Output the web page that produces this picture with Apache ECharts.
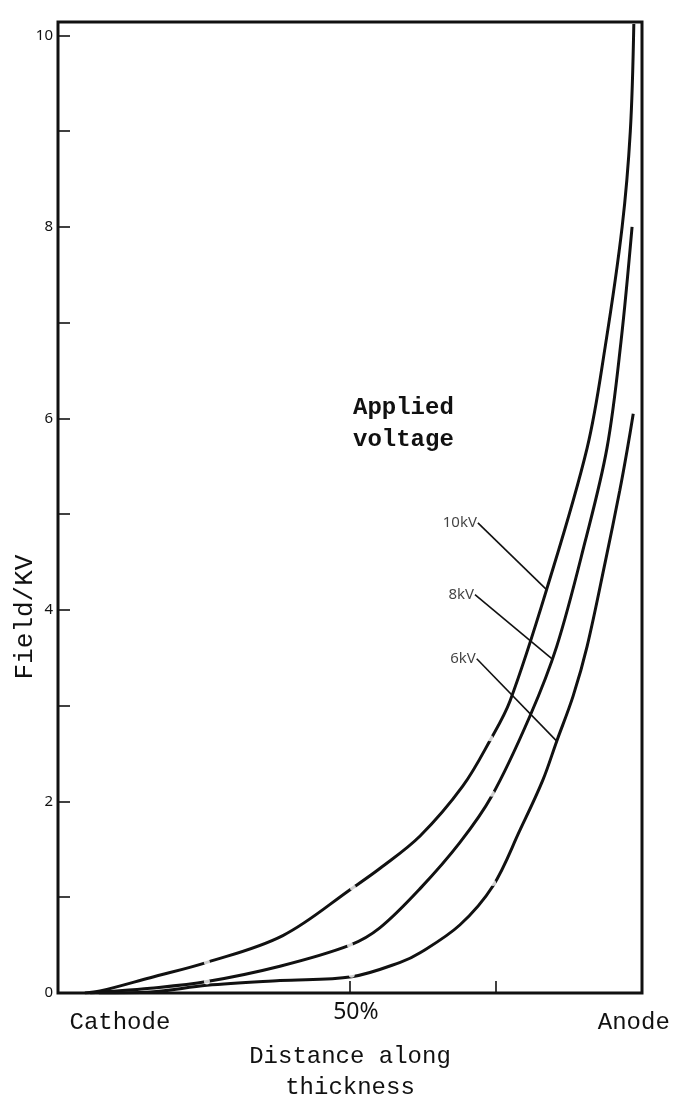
<!DOCTYPE html>
<html>
<head>
<meta charset="utf-8">
<style>
  html, body { margin: 0; padding: 0; background: #fff; }
  #chart { width: 675px; height: 1108px; }
</style>
<script src="https://cdn.jsdelivr.net/npm/echarts@6/dist/echarts.min.js"></script>
</head>
<body>
<div id="chart"></div>
<script>
  // distance along thickness in % (cathode = 0, anode = 100), field in kV
  const x10 = [4.6, 7.2, 15.8, 25.5, 38.5, 50.5, 55.1, 62.0, 69.3, 74.0, 77.4, 83.7, 90.6, 93.7, 96.6, 98.0, 98.6];
  const y10 = [0.0, 0.02, 0.16, 0.32, 0.60, 1.10, 1.30, 1.64, 2.16, 2.64, 3.05, 4.22, 5.69, 6.75, 8.0, 9.0, 10.12];

  const x8 = [5.5, 7.2, 15.8, 25.5, 38.0, 50.0, 55.1, 62.0, 68.8, 74.3, 80.8, 85.4, 90.2, 94.0, 96.4, 98.3];
  const y8 = [0.0, 0.01, 0.05, 0.12, 0.28, 0.50, 0.68, 1.09, 1.57, 2.06, 2.89, 3.62, 4.70, 5.69, 6.80, 8.0];

  const x6 = [7.0, 15.8, 25.5, 38.0, 50.3, 58.6, 62.0, 68.8, 74.5, 79.1, 83.0, 85.4, 88.2, 90.6, 93.7, 96.2, 97.6, 98.5];
  const y6 = [0.0, 0.01, 0.08, 0.13, 0.17, 0.32, 0.42, 0.71, 1.12, 1.70, 2.22, 2.63, 3.10, 3.62, 4.50, 5.25, 5.72, 6.05];

  // faint plotted points on the curves
  const pointsX = [25.5, 50.5, 74.0, 25.5, 50.0, 74.3, 50.3, 74.5];
  const pointsY = [0.32, 1.10, 2.66, 0.12, 0.50, 2.08, 0.19, 1.15];

  // applied-voltage labels and their leader lines (start -> end on curve)
  const voltLabels = ["10kV", "8kV", "6kV"];
  const leadStartX = [71.9, 71.4, 71.7];
  const leadStartY = [4.91, 4.16, 3.49];
  const leadEndX = [83.7, 84.6, 85.4];
  const leadEndY = [4.21, 3.49, 2.63];

  const yTicks = [0, 1, 2, 3, 4, 5, 6, 7, 8, 9, 10];
  const yLabels = [0, 2, 4, 6, 8, 10];
  const xTicks = [50, 75];
  const xLabelAt = [10.6, 51, 98.6];
  const xLabelText = ["Cathode", "50%", "Anode"];

  const INK = "#111";
  const MONO = "'Liberation Mono', 'DejaVu Sans Mono', monospace";
  const HAND = "'Noto Sans', 'DejaVu Sans', sans-serif";

  const zip = (xs, ys) => xs.map((x, i) => [x, ys[i]]);

  const curve = (name, xs, ys) => ({
    type: "line", name, data: zip(xs, ys),
    smooth: 0.35, showSymbol: false,
    lineStyle: { color: INK, width: 3 }, z: 3,
  });

  const leaders = voltLabels.map((lab, i) => ({
    type: "line", data: [[leadStartX[i], leadStartY[i]], [leadEndX[i], leadEndY[i]]],
    showSymbol: false, lineStyle: { color: INK, width: 1.6 }, z: 2,
  }));

  const chart = echarts.init(document.getElementById("chart"));
  chart.setOption({
    animation: false,
    backgroundColor: "#fff",
    grid: { left: 58, right: 33, top: 22, bottom: 110, show: true, borderColor: INK, borderWidth: 3 },
    xAxis: {
      type: "value", min: 0, max: 100,
      axisLine: { show: false },
      splitLine: { show: false },
      axisTick: { show: true, inside: true, length: 12, customValues: xTicks, lineStyle: { color: INK, width: 1.6 } },
      axisLabel: {
        customValues: xLabelAt, margin: 8, color: INK,
        formatter: (v) => {
          const t = xLabelText[xLabelAt.indexOf(v)] || "";
          return t === "50%" ? "{p|" + t + "}" : "{t|" + t + "}";
        },
        rich: {
          t: { fontFamily: MONO, fontSize: 24, color: INK, padding: [10, 0, 0, 0] },
          p: { fontFamily: HAND, fontSize: 23, color: INK },
        },
      },
      name: "Distance along\nthickness",
      nameLocation: "middle", nameGap: 48,
      nameTextStyle: { fontFamily: MONO, fontSize: 24, color: INK, lineHeight: 31 },
    },
    yAxis: {
      type: "value", min: 0, max: 10.14,
      axisLine: { show: false },
      splitLine: { show: false },
      axisTick: { show: true, inside: true, length: 12, customValues: yTicks, lineStyle: { color: INK, width: 1.6 } },
      axisLabel: { customValues: yLabels, margin: 5, color: INK, fontFamily: HAND, fontSize: 15 },
    },
    graphic: [
      {
        type: "text", x: 353, y: 392,
        style: { text: "Applied\nvoltage", fontFamily: MONO, fontWeight: "bold", fontSize: 24, lineHeight: 32, fill: INK },
      },
      {
        type: "text", x: 25, y: 617, rotation: Math.PI / 2,
        style: { text: "Field/KV", fontFamily: MONO, fontSize: 26, fill: INK, align: "center", verticalAlign: "middle" },
      },
    ],
    series: [
      curve("10kV", x10, y10),
      curve("8kV", x8, y8),
      curve("6kV", x6, y6),
      ...leaders,
      {
        type: "scatter", data: zip(leadStartX, leadStartY), symbolSize: 0,
        label: {
          show: true, position: "left", distance: 1, color: INK, fontFamily: HAND, fontSize: 15,
          formatter: (p) => voltLabels[p.dataIndex],
        },
      },
      {
        type: "scatter", data: zip(pointsX, pointsY), symbol: "emptyCircle", symbolSize: 6,
        itemStyle: { color: "rgba(255,255,255,0)", borderColor: "#333", borderWidth: 1 }, z: 4,
      },
    ],
  });
</script>
</body>
</html>
